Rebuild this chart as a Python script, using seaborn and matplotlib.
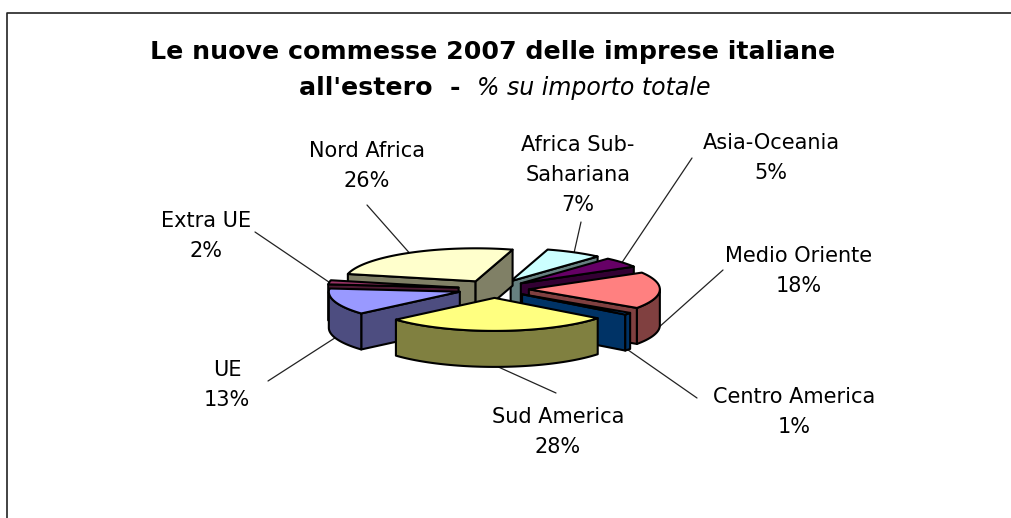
import numpy as np
import seaborn as sns
import matplotlib.pyplot as plt
from matplotlib.colors import to_rgb

# slices clockwise
regions = ['Africa Sub-\nSahariana', 'Asia-Oceania', 'Medio Oriente', 'Centro America',
           'Sud America', 'UE', 'Extra UE', 'Nord Africa']
shares = [7, 5, 18, 1, 28, 13, 2, 26]
top_colors = ['#CCFFFF', '#660066', '#FF8080', '#0066CC',
              '#FFFF80', '#9999FF', '#993366', '#FFFFCC']

sns.set_theme(style='white')
plt.rcParams['font.family'] = ['DejaVu Sans']
palette = sns.color_palette(top_colors)

# pie geometry in pixels
cx, cy = 493.5, 289
rx, ry = 131, 33
depth = 36
explode = 0.27
start_angle = 16.4

# label centre + where the leader line ends
label_pos = [(578, 175), (771, 158), (799, 271), (794, 412),
             (558, 432), (227, 385), (206, 236), (367, 166)]
leader_end = [(581, 222), (692, 158), (723, 270), (697, 398),
              (556, 393), (268, 381), (255, 232), (367, 205)]

fig, ax = plt.subplots(figsize=(10.12, 5.18), dpi=100)
fig.subplots_adjust(0, 0, 1, 1)
ax.set_xlim(0, 1012)
ax.set_ylim(518, 0)
ax.axis('off')

# frame, only left and top are in the picture
ax.plot([7, 7, 1012], [518, 13, 13], color='#222222', lw=1.2, clip_on=False)


def edge(theta, ox, oy):
    t = np.radians(theta)
    return ox + rx * np.sin(t), oy - ry * np.cos(t)


def face(xs, ys, color, z):
    xs = np.asarray(xs, dtype=float)
    ys = np.asarray(ys, dtype=float)
    ax.fill(np.r_[xs, xs[::-1]], np.r_[ys, ys[::-1] + depth], facecolor=color,
            edgecolor='black', lw=1.5, joinstyle='round', zorder=z)


angles = start_angle + np.cumsum([0] + shares) * 3.6
mids = (angles[:-1] + angles[1:]) / 2
# back slices first
order = np.argsort(-np.cos(np.radians(mids)) * 1.0)
for rank, i in enumerate(order):
    a, b, mid = angles[i], angles[i + 1], np.radians(mids[i])
    ox = cx + explode * rx * np.sin(mid)
    oy = cy - explode * ry * np.cos(mid)
    side = tuple(c * 0.5 for c in to_rgb(palette[i]))
    z = 3 + rank

    if np.sin(np.radians(a)) < 0:
        ex, ey = edge(a, ox, oy)
        face([ox, ex], [oy, ey], side, z)
    if np.sin(np.radians(b)) > 0:
        ex, ey = edge(b, ox, oy)
        face([ox, ex], [oy, ey], side, z)

    # outer rim, only the front half of the ellipse shows
    lo, hi = max(a, 90), min(b, 270)
    if hi > lo:
        rim = np.linspace(lo, hi, 60)
        rim_x, rim_y = edge(rim, ox, oy)
        face(rim_x, rim_y, side, z)

    arc = np.linspace(a, b, 80)
    arc_x, arc_y = edge(arc, ox, oy)
    ax.fill(np.r_[ox, arc_x], np.r_[oy, arc_y], facecolor=palette[i],
            edgecolor='black', lw=1.5, joinstyle='round', zorder=z)

    # leader from the rim to the label
    sx, sy = edge(mids[i], ox, oy)
    if np.cos(mid) < 0:
        sy += depth
    ax.plot([sx, leader_end[i][0]], [sy, leader_end[i][1]], color='#222222', lw=0.9, zorder=2)
    ax.text(label_pos[i][0], label_pos[i][1], f'{regions[i]}\n{shares[i]}%', ha='center',
            va='center', fontsize=15, color='black', linespacing=1.65)

ax.text(493, 52, 'Le nuove commesse 2007 delle imprese italiane', ha='center', va='center',
        fontsize=18.2, fontweight='bold', color='black')
ax.text(299, 88, "all'estero  -", ha='left', va='center', fontsize=18.2, fontweight='bold', color='black')
ax.text(477, 88, '% su importo totale', ha='left', va='center', fontsize=17, fontstyle='italic', color='black')

fig.savefig('out.png', dpi=100)
